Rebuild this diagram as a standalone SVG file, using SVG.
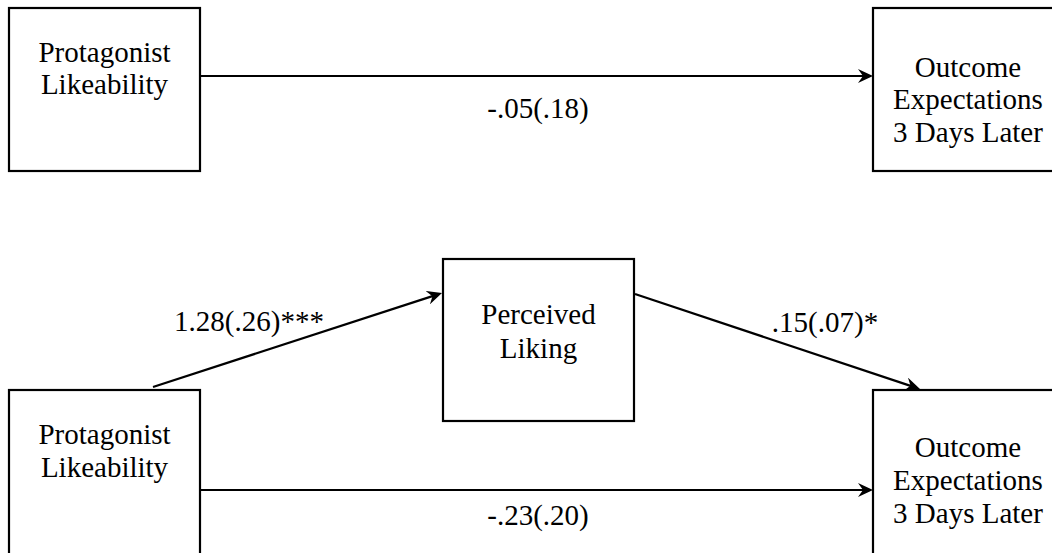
<svg xmlns="http://www.w3.org/2000/svg" width="1052" height="553" viewBox="0 0 1052 553">
<style>
.box{fill:#fff;stroke:#000;stroke-width:2.2}
.t{font-family:"Liberation Serif","Times New Roman",serif;font-size:29px;fill:#000;text-anchor:middle}
.c{stroke:#000;stroke-width:2.2;fill:none;marker-end:url(#ah)}
</style>
<defs>
<marker id="ah" markerUnits="userSpaceOnUse" markerWidth="16" markerHeight="14" refX="9" refY="7" orient="auto">
<path d="M0,0 L15,7 L0,14 L5,7 Z" fill="#000"/>
</marker>
</defs>
<rect width="1052" height="553" fill="#fff"/>
<g id="connectors">
<line class="c" x1="201" y1="76" x2="867" y2="76"/>
<line class="c" x1="201" y1="490" x2="867" y2="490"/>
<line class="c" x1="153" y1="387" x2="436.3" y2="294.9"/>
<line class="c" x1="635" y1="294" x2="914.3" y2="387.1"/>
<text class="t" x="538" y="118">-.05(.18)</text>
<text class="t" x="538" y="525">-.23(.20)</text>
<text class="t" x="249" y="331">1.28(.26)***</text>
<text class="t" x="825" y="332">.15(.07)*</text>
</g>
<g id="n1">
<rect class="box" x="9" y="8" width="191" height="163"/>
<text class="t" x="104.5" y="62">Protagonist</text>
<text class="t" x="104.5" y="94">Likeability</text>
</g>
<g id="n2">
<rect class="box" x="873" y="8" width="200" height="163"/>
<text class="t" x="968" y="76.5">Outcome</text>
<text class="t" x="968" y="109">Expectations</text>
<text class="t" x="968" y="141.5">3 Days Later</text>
</g>
<g id="n3">
<rect class="box" x="443" y="259" width="191" height="162"/>
<text class="t" x="538.5" y="324">Perceived</text>
<text class="t" x="538.5" y="357.5">Liking</text>
</g>
<g id="n4">
<rect class="box" x="9" y="390" width="191" height="175"/>
<text class="t" x="104.5" y="443.5">Protagonist</text>
<text class="t" x="104.5" y="476.5">Likeability</text>
</g>
<g id="n5">
<rect class="box" x="873" y="390" width="200" height="175"/>
<text class="t" x="968" y="457">Outcome</text>
<text class="t" x="968" y="490">Expectations</text>
<text class="t" x="968" y="523">3 Days Later</text>
</g>
</svg>
